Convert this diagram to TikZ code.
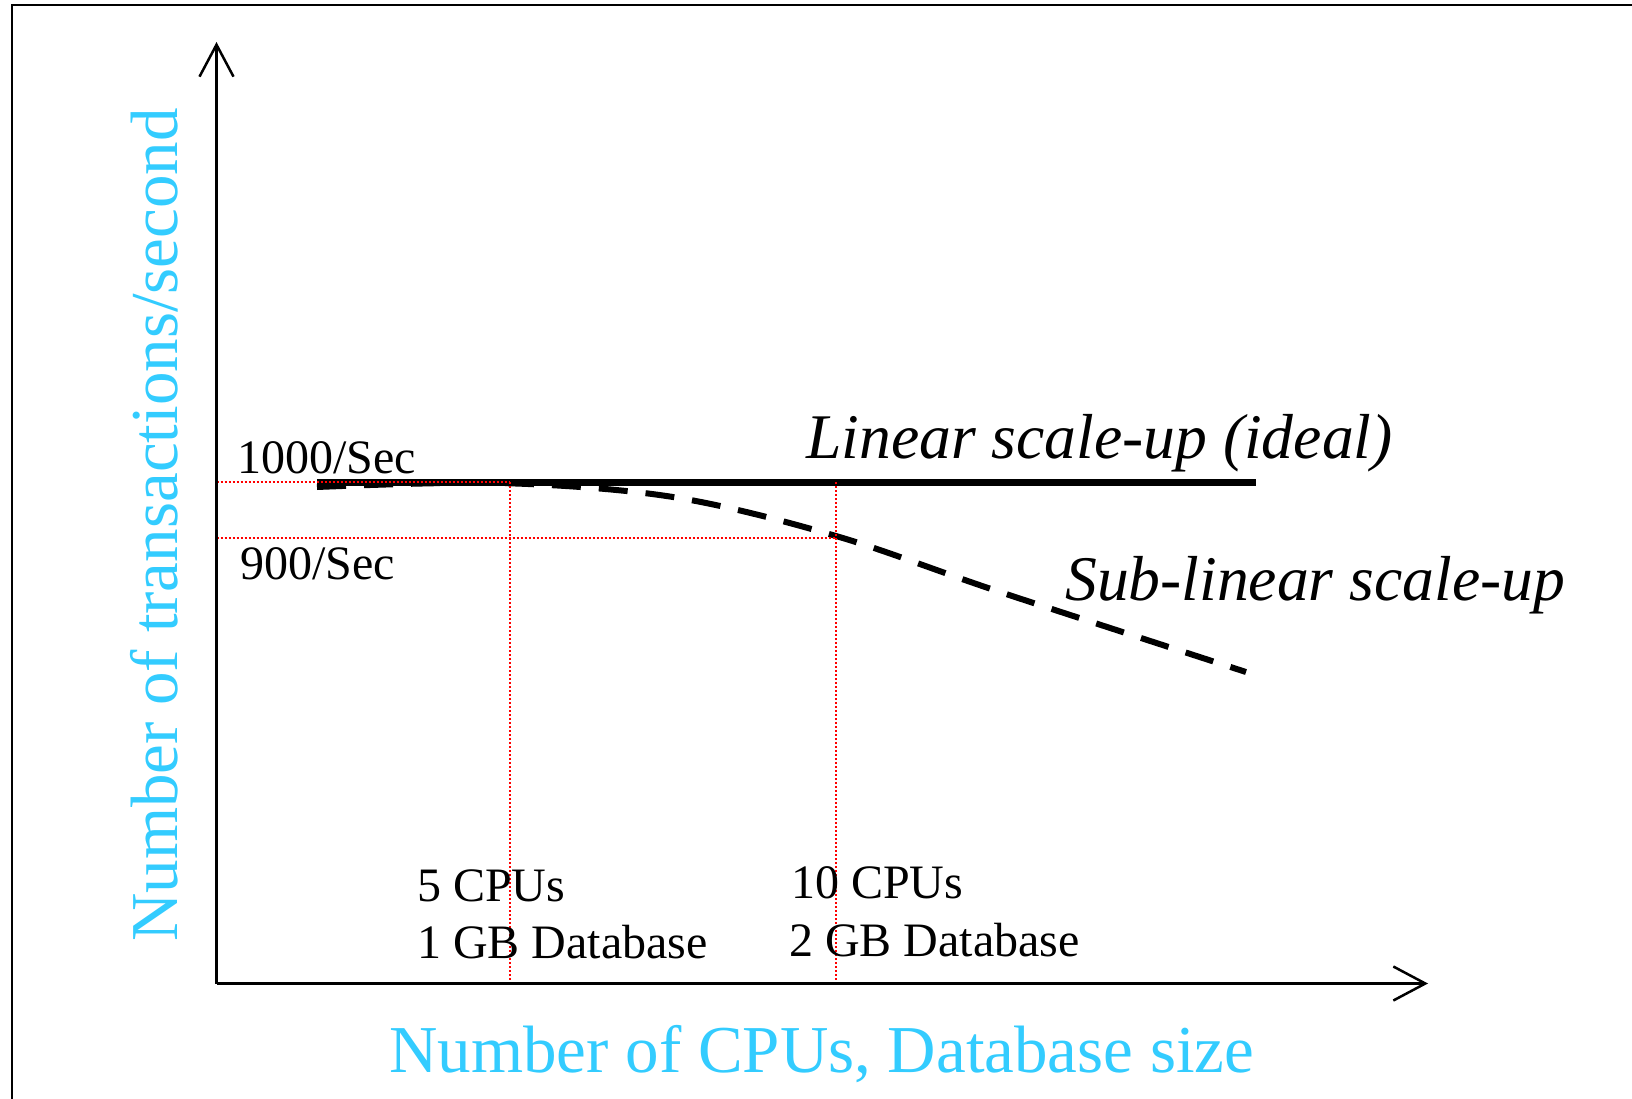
\documentclass[tikz,border=0pt]{standalone}
\usepackage{fontspec}
\setmainfont{Liberation Serif}
\usetikzlibrary{arrows.meta}
\definecolor{axislabel}{HTML}{33CCFF}
\tikzset{
  frameline/.style={line width=2pt, black},
  axisline/.style={line width=2.5pt, black, -{Straight Barb[length=32pt,width=34pt,line width=2.5pt]}},
  guide/.style={red, line width=1.5pt, dash pattern=on 2pt off 2pt},
  ideal/.style={line width=7pt, black},
  sublinear/.style={line width=6pt, black, dash pattern=on 29pt off 18pt},
  smalllabel/.style={inner sep=0pt, anchor=base west, font=\fontsize{48}{57}\selectfont},
  curvelabel/.style={inner sep=0pt, anchor=base west, font=\fontsize{63.6}{76}\selectfont\itshape},
  axistitle/.style={inner sep=0pt, anchor=base west, text=axislabel, font=\fontsize{67}{80}\selectfont},
}
\begin{document}
\begin{tikzpicture}[x=1pt, y=-1pt]
\useasboundingbox (0,0) rectangle (1632,1099);
\fill[white] (0,0) rectangle (1632,1099);

% outer frame (left and top edges)
\draw[frameline] (12,1110) -- (12,5) -- (1640,5);

% key points
\coordinate (O) at (216.5,983.5);
\coordinate (Ytop) at (216.5,42);
\coordinate (Xend) at (1428,983.5);
\coordinate (Lstart) at (317,482);
\coordinate (Lend) at (1256,482);
\coordinate (y1000) at (216.5,482);
\coordinate (y900) at (216.5,538);
\coordinate (c5top) at (510,482);
\coordinate (c5bot) at (510,983.5);
\coordinate (c10top) at (836,482);
\coordinate (c10bot) at (836,983.5);
\coordinate (c10mid) at (836,538);

% sub-linear curve
\draw[sublinear] plot[smooth, tension=0.55] coordinates
  {(317,487) (500,483) (673,497) (836,536) (1000,592) (1246,672)};

% linear curve
\draw[ideal] (Lstart) -- (Lend);

% guide lines
\draw[guide] (y1000) -- (c5top);
\draw[guide] (y900) -- (c10mid);
\draw[guide] (c5top) -- (c5bot);
\draw[guide] (c10top) -- (c10bot);

% axes
\draw[axisline] (O) -- (Ytop);
\draw[axisline] (O) -- (Xend);

% labels
\node[smalllabel] (l1000) at (237,473) {1000/Sec};
\node[smalllabel] (l900) at (240,579) {900/Sec};
\node[curvelabel] (lin) at (806,458) {Linear scale-up (ideal)};
\node[curvelabel] (sub) at (1065,600) {Sub-linear scale-up};
\node[smalllabel] (a1) at (417,901) {5 CPUs};
\node[smalllabel] (a2) at (417,958) {1 GB Database};
\node[smalllabel] (b1) at (791,898) {10 CPUs};
\node[smalllabel] (b2) at (789,956) {2 GB Database};
\node[axistitle] (xt) at (389,1072) {Number of CPUs, Database size};
\node[axistitle, rotate=90] (yt) at (177,942) {Number of transactions/second};
\end{tikzpicture}
\end{document}
